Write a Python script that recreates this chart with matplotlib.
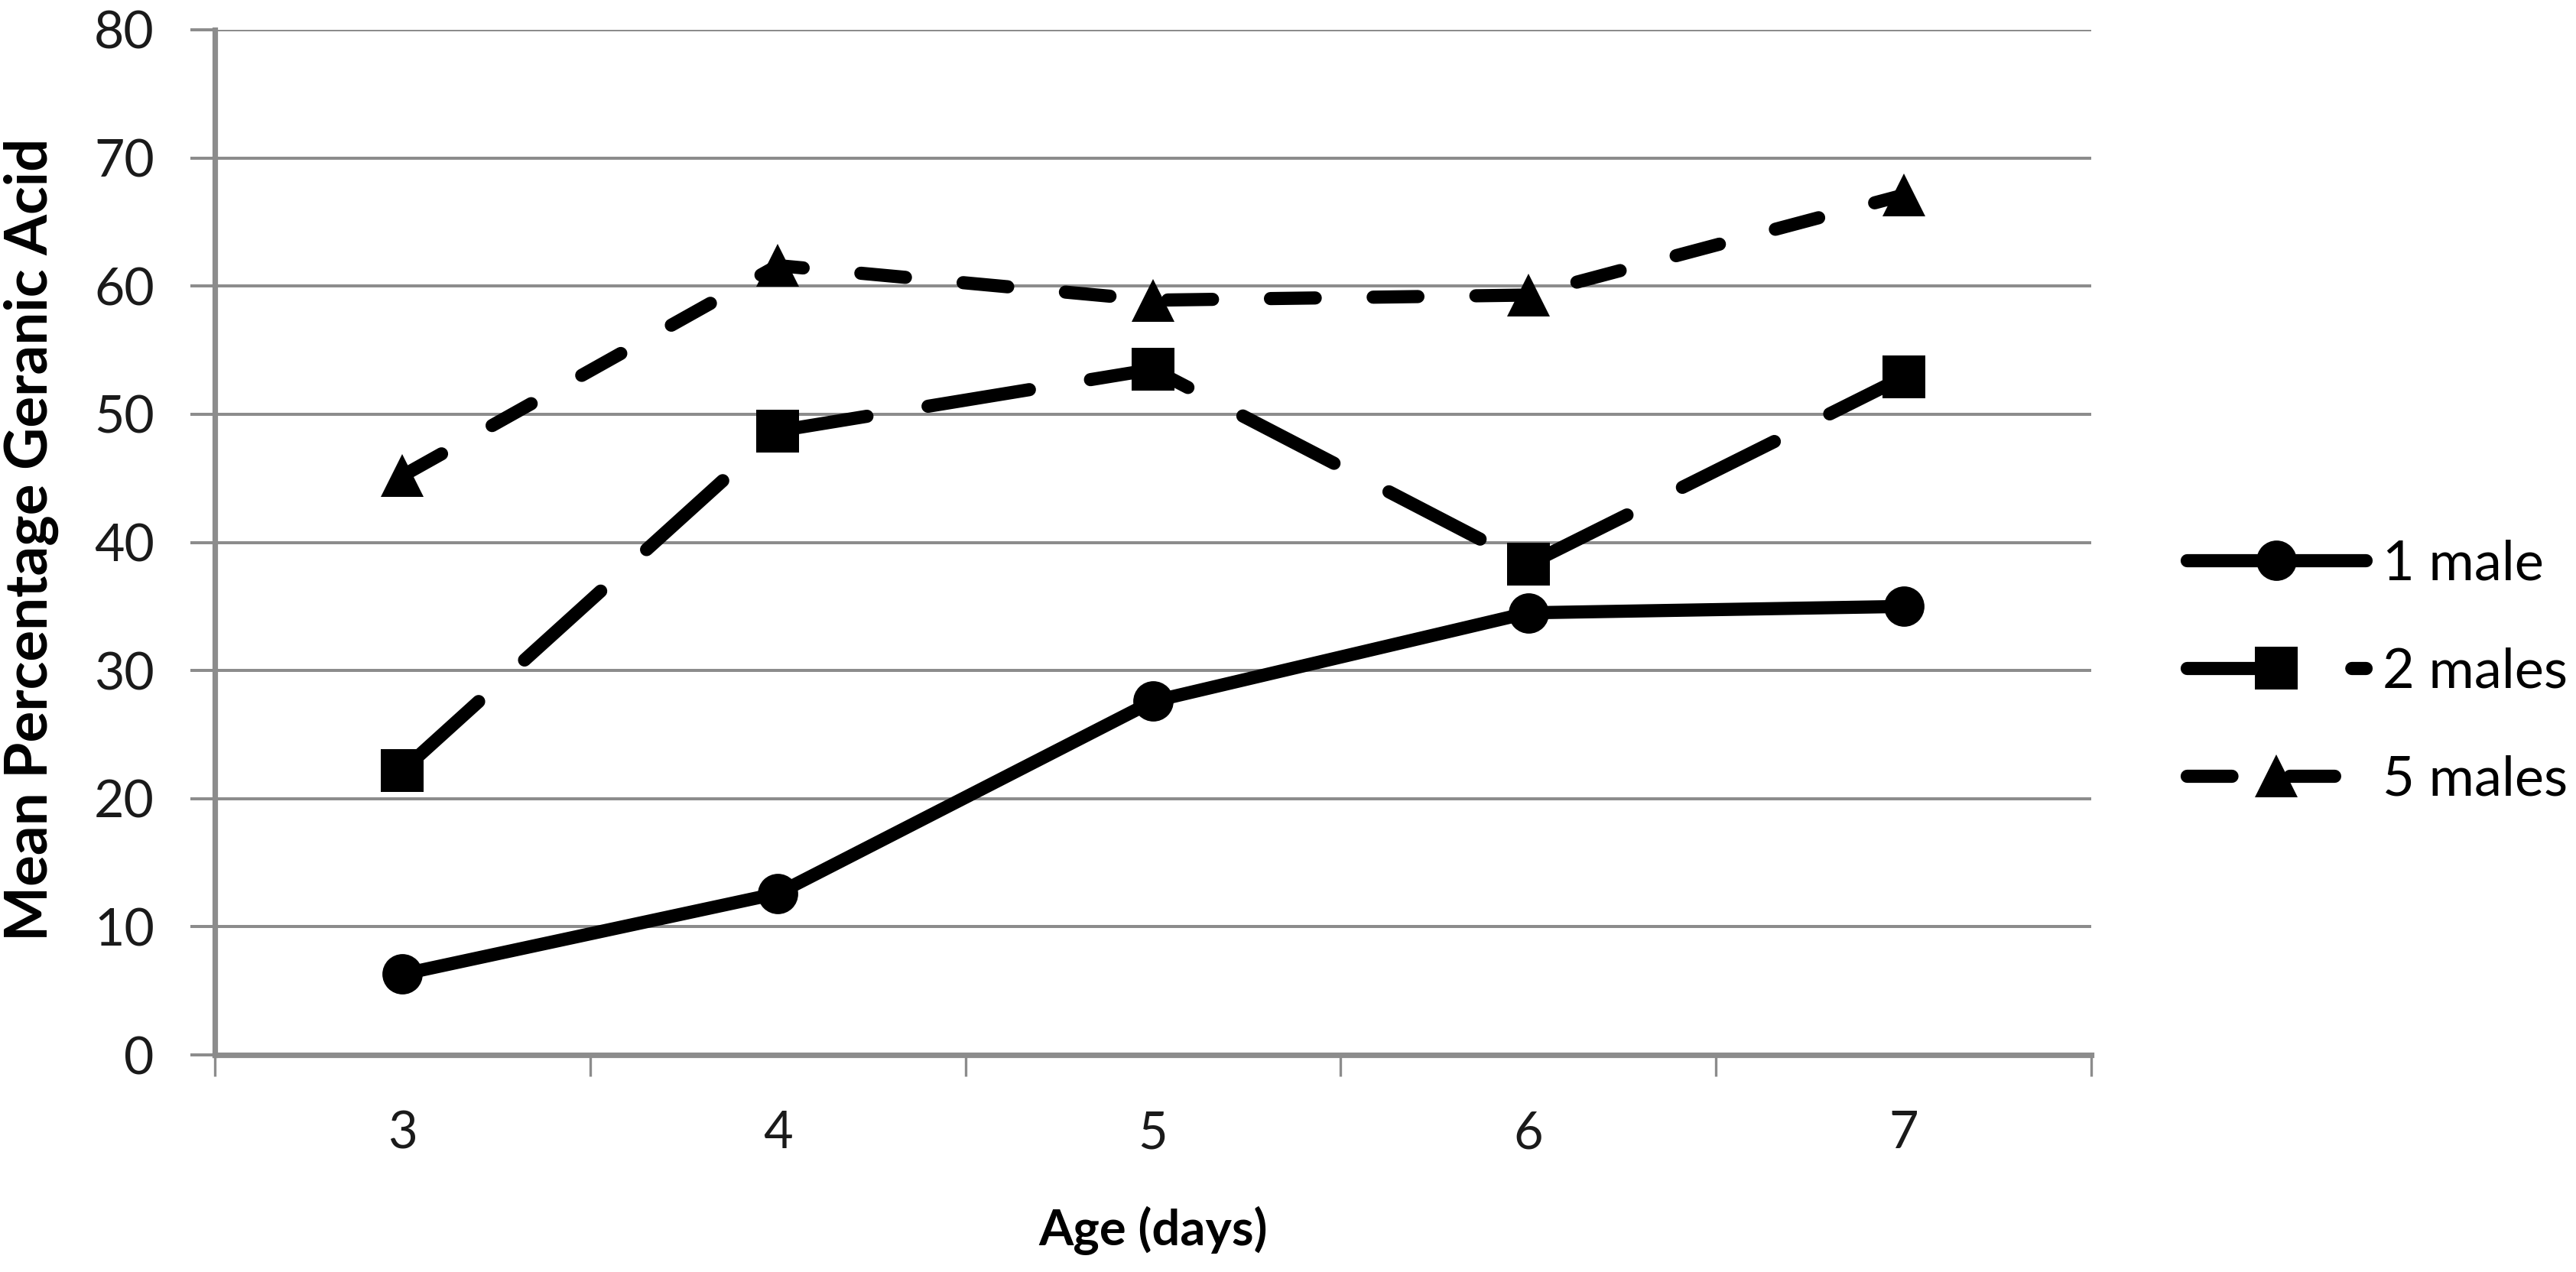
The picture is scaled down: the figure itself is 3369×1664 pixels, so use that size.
import matplotlib
matplotlib.use("Agg")
import matplotlib.pyplot as plt

plt.rcParams['font.family'] = ['Lato', 'DejaVu Sans']

# values
ages = ["3", "4", "5", "6", "7"]
one_male = [6.3, 12.6, 27.6, 34.5, 35.0]
two_males = [22.2, 48.7, 53.5, 38.3, 52.9]
five_males = [45.2, 61.6, 58.9, 59.3, 67.1]
series_labels = ["1 male", "2 males", "5 males"]
y_ticks = [0, 10, 20, 30, 40, 50, 60, 70, 80]

W, H, DPI = 3369, 1664, 200
fig = plt.figure(figsize=(W / DPI, H / DPI), dpi=DPI)
ax = fig.add_axes([281 / W, 1 - 1380 / H, (2735 - 281) / W, (1380 - 39) / H])

grid_col = "#8c8c8c"
x = list(range(len(ages)))
lw = 6.2

ax.plot(x, one_male, color="black", lw=lw, marker="o", ms=19, mew=0,
        solid_capstyle="round", label=series_labels[0], zorder=3)
ax.plot(x, two_males, color="black", lw=lw, marker="s", ms=20, mew=0,
        dashes=(7.8, 4.7), dash_capstyle="round", label=series_labels[1], zorder=3)
ax.plot(x, five_males, color="black", lw=lw, marker="^", ms=20, mew=0,
        dashes=(3.4, 4.4), dash_capstyle="round", label=series_labels[2], zorder=3)

ax.set_xlim(-0.5, len(ages) - 0.5)
ax.set_ylim(0, 80)

# category labels in the middle, tick marks between categories
ax.set_xticks(x)
ax.set_xticklabels(ages)
ax.set_xticks([i - 0.5 for i in range(len(ages) + 1)], minor=True)
ax.tick_params(axis="x", which="major", length=0, pad=26, labelsize=24,
               labelcolor="#1a1a1a")
ax.tick_params(axis="x", which="minor", length=10, width=1.2, color=grid_col,
               direction="out")

ax.set_yticks(y_ticks)
ax.tick_params(axis="y", length=11.5, width=1.44, color=grid_col, pad=17,
               labelsize=24.5, labelcolor="#1a1a1a")
ax.yaxis.grid(True, color=grid_col, lw=1.44)
ax.set_axisbelow(True)

for side in ["top", "right"]:
    ax.spines[side].set_visible(False)
for side in ["left", "bottom"]:
    ax.spines[side].set_color(grid_col)
    ax.spines[side].set_linewidth(2.6)

fig.text(41 / W, 1 - 706 / H, "Mean Percentage Geranic Acid", rotation=90,
         ha="center", va="center", fontsize=27.5, fontweight="bold")
fig.text(1508 / W, 1 - 1610 / H, "Age (days)", ha="center", va="center",
         fontsize=23.5, fontweight="bold")

ax.legend(loc="center left", bbox_to_anchor=(2860 / W, 1 - 879 / H),
          bbox_transform=fig.transFigure, frameon=False, fontsize=26,
          handlelength=3.24, handletextpad=0.3, labelspacing=1.05,
          borderpad=0, borderaxespad=0)

fig.savefig("out.png", dpi=DPI, facecolor="white")
